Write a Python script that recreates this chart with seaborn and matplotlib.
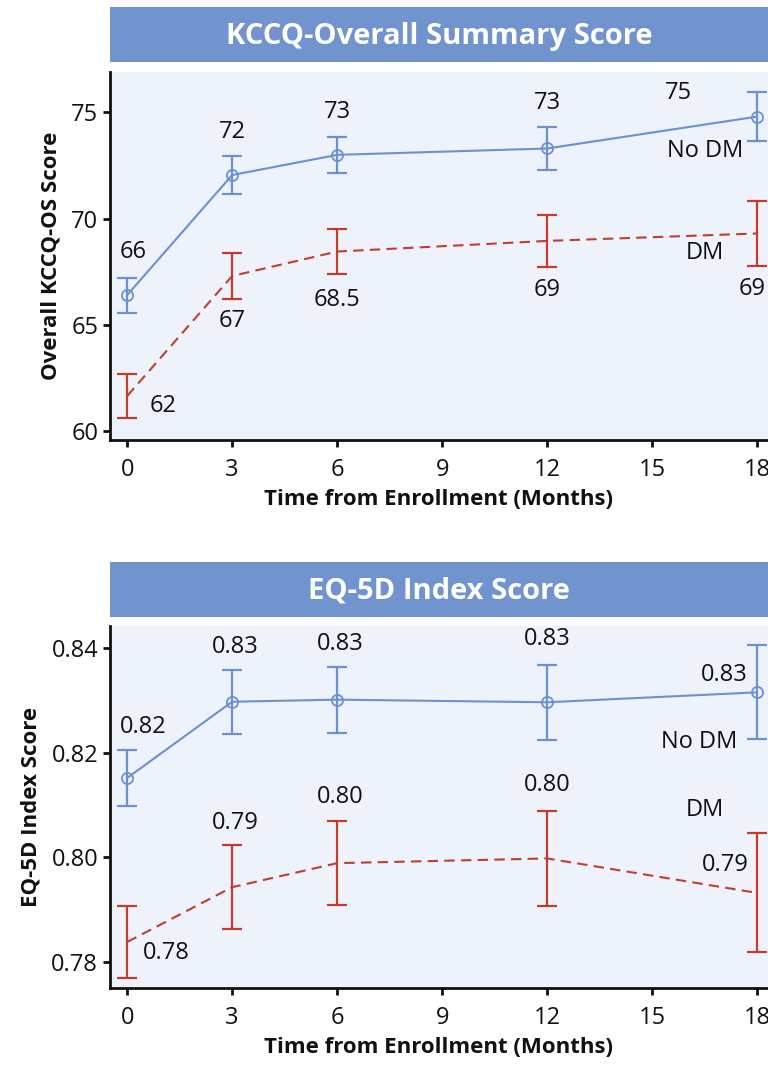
import numpy as np
import pandas as pd
import matplotlib
matplotlib.use("Agg")
import matplotlib.pyplot as plt
import seaborn as sns

# === 数据 ===
months = [0, 3, 6, 12, 18]

kccq_nodm = [66.4, 72.05, 73.0, 73.3, 74.8]
kccq_nodm_err = [0.82, 0.88, 0.85, 1.0, 1.15]
kccq_dm = [61.65, 67.3, 68.45, 68.95, 69.3]
kccq_dm_err = [1.03, 1.08, 1.07, 1.23, 1.53]
kccq_nodm_lbl = ["66", "72", "73", "73", "75"]
kccq_dm_lbl = ["62", "67", "68.5", "69", "69"]

eq_nodm = [0.8152, 0.8298, 0.8302, 0.8297, 0.8316]
eq_nodm_err = [0.0053, 0.0061, 0.0063, 0.0072, 0.0090]
eq_dm = [0.7838, 0.7943, 0.7989, 0.7998, 0.7932]
eq_dm_err = [0.0069, 0.0080, 0.0081, 0.0091, 0.0114]
eq_nodm_lbl = ["0.82", "0.83", "0.83", "0.83", "0.83"]
eq_dm_lbl = ["0.78", "0.79", "0.80", "0.80", "0.79"]

BLUE = "#6b90d4"
RED = "#c43d2b"
HEADER = "#7194cf"
BG = "#eef2fa"
INK = "#111111"

sns.set_theme(style="ticks")
plt.rcParams["font.family"] = ["Open Sans", "DejaVu Sans"]

fig = plt.figure(figsize=(7.68, 10.75), dpi=100)

def px(x0, y0, w, h):
    return [x0 / 768, 1 - (y0 + h) / 1075, w / 768, h / 1075]

def header(rect, title):
    hax = fig.add_axes(px(*rect))
    hax.set_facecolor(HEADER)
    for s in hax.spines.values():
        s.set_visible(False)
    hax.set_xticks([]); hax.set_yticks([])
    hax.text(0.5, 0.47, title, ha="center", va="center", color="white",
             fontsize=21, fontweight="bold", transform=hax.transAxes)

def panel(rect, nodm, nodm_err, dm, dm_err, nodm_lbl, dm_lbl,
          nodm_off, dm_off, ylim, yticks, yfmt, ylabel, nodm_pos, dm_pos):
    ax = fig.add_axes(px(*rect))
    ax.set_facecolor(BG)
    df = pd.DataFrame({"month": months * 2,
                       "score": nodm + dm,
                       "group": ["No DM"] * 5 + ["DM"] * 5})
    sns.lineplot(data=df, x="month", y="score", hue="group", style="group",
                 palette={"No DM": BLUE, "DM": RED},
                 dashes={"No DM": "", "DM": (5, 3)},
                 markers={"No DM": "o", "DM": ","}, markersize=8,
                 linewidth=1.5, legend=False, ax=ax)
    # 空心圆
    for ln in ax.lines:
        if ln.get_marker() == "o":
            ln.set_markeredgecolor(BLUE)
            ln.set_markerfacecolor("none")
            ln.set_markeredgewidth(1.3)
    ax.errorbar(months, nodm, yerr=nodm_err, fmt="none", ecolor=BLUE,
                elinewidth=1.6, capsize=7, capthick=1.6)
    ax.errorbar(months, dm, yerr=dm_err, fmt="none", ecolor=RED,
                elinewidth=1.6, capsize=7, capthick=1.6)
    for x, y, t, o in zip(months, nodm, nodm_lbl, nodm_off):
        ax.annotate(t, (x, y), xytext=o, textcoords="offset pixels",
                    ha="center", va="center", fontsize=17, color=INK)
    for x, y, t, o in zip(months, dm, dm_lbl, dm_off):
        ax.annotate(t, (x, y), xytext=o, textcoords="offset pixels",
                    ha="center", va="center", fontsize=17, color=INK)
    ax.text(*nodm_pos, "No DM", ha="center", va="center", fontsize=17, color=INK)
    ax.text(*dm_pos, "DM", ha="center", va="center", fontsize=17, color=INK)

    ax.set_xlim(-0.49, 18.31)
    ax.set_ylim(*ylim)
    ax.set_xticks([0, 3, 6, 9, 12, 15, 18])
    ax.set_yticks(yticks)
    ax.set_yticklabels([yfmt.format(v) for v in yticks])
    ax.tick_params(axis="both", labelsize=17, width=2, length=5, color=INK,
                   labelcolor=INK)
    ax.tick_params(axis="x", pad=8)
    sns.despine(ax=ax)
    for s in ["left", "bottom"]:
        ax.spines[s].set_linewidth(2)
        ax.spines[s].set_color(INK)
    ax.set_xlabel("Time from Enrollment (Months)", fontsize=16,
                  fontweight="bold", labelpad=5, color=INK)
    ax.set_ylabel(ylabel, fontsize=16, fontweight="bold", labelpad=7, color=INK)
    return ax

header((110, 7, 658, 55), "KCCQ-Overall Summary Score")
panel((110, 72, 658, 368), kccq_nodm, kccq_nodm_err, kccq_dm, kccq_dm_err,
      kccq_nodm_lbl, kccq_dm_lbl,
      nodm_off=[(6, 43), (0, 43), (0, 43), (0, 45), (-79, 24)],
      dm_off=[(36, -10), (0, -45), (0, -48), (0, -49), (-5, -56)],
      ylim=(59.58, 76.9), yticks=[60, 65, 70, 75], yfmt="{:.0f}",
      ylabel="Overall KCCQ-OS Score",
      nodm_pos=(16.5, 73.16), dm_pos=(16.5, 68.4))

header((110, 562, 658, 55), "EQ-5D Index Score")
panel((110, 626, 658, 362), eq_nodm, eq_nodm_err, eq_dm, eq_dm_err,
      eq_nodm_lbl, eq_dm_lbl,
      nodm_off=[(16, 51), (3, 55), (3, 56), (0, 63), (-33, 17)],
      dm_off=[(39, -11), (3, 64), (3, 66), (0, 73), (-32, 28)],
      ylim=(0.775, 0.8443), yticks=[0.78, 0.80, 0.82, 0.84], yfmt="{:.2f}",
      ylabel="EQ-5D Index Score",
      nodm_pos=(16.34, 0.822), dm_pos=(16.5, 0.8091))

fig.savefig("out.png", dpi=100)
